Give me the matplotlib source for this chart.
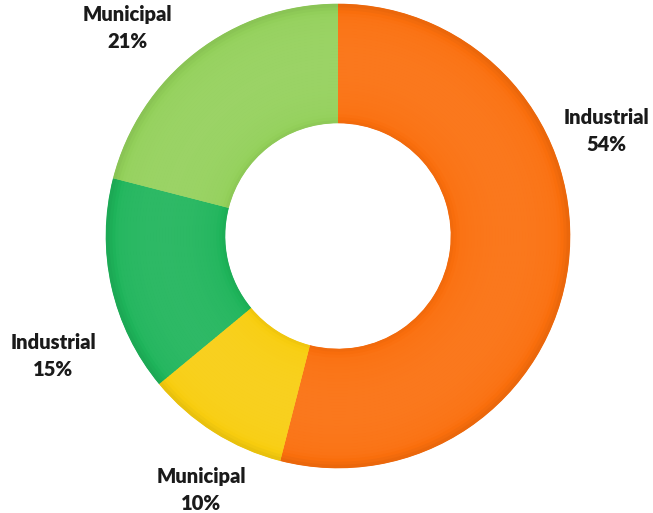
import matplotlib
matplotlib.use("Agg")
import numpy as np
import matplotlib.pyplot as plt
from matplotlib.patches import Wedge
from matplotlib.colors import to_rgb

# Share of water use by sector
labels = ["Industrial", "Municipal", "Industrial", "Municipal"]
shares = [54, 10, 15, 21]
colors = ["#FA6E0C", "#F8CD0E", "#1EB45A", "#93D05A"]

# Label anchor positions in pixel coordinates (x, y from top)
label_pos = [(606, 131), (201, 490), (53, 356), (127, 28)]

W, H = 653, 513
fig = plt.figure(figsize=(W / 100, H / 100), dpi=100)
ax = fig.add_axes([0, 0, 1, 1])

cx, cy = 338, H - 236
r_out, r_in = 232, 113
width = r_out - r_in

wedges, _ = ax.pie(shares, colors=colors, startangle=90, counterclock=False,
                   center=(cx, cy), radius=r_out, frame=True,
                   wedgeprops=dict(width=width, linewidth=0))
ax.set_xlim(0, W)
ax.set_ylim(0, H)
ax.set_aspect("equal")
ax.axis("off")


def shade(base, k):
    """Lighten (k > 0) or darken (k < 0) a colour."""
    c = np.array(to_rgb(base))
    return tuple(c + (1 - c) * k) if k > 0 else tuple(c * (1 + k))


# Soft bevel: thin concentric bands, darker toward the rims, lighter mid-ring
n = 40
edges = np.linspace(r_in, r_out, n + 1)
for w, base in zip(wedges, colors):
    t1, t2 = w.theta1, w.theta2
    for i in range(n):
        r0, r1 = edges[i], edges[i + 1]
        u = (0.5 * (r0 + r1) - r_in) / width   # 0 at inner rim, 1 at outer
        k = 0.07 * np.sin(np.pi * u) ** 0.6 - 0.08 * max(0, (u - 0.9) / 0.1) \
            - 0.05 * max(0, (0.08 - u) / 0.08)
        ax.add_patch(Wedge((cx, cy), r1 + 0.3, t1, t2, width=r1 - r0 + 0.6,
                           facecolor=shade(base, k), linewidth=0))

for lab, val, (px, py) in zip(labels, shares, label_pos):
    ax.text(px, H - py, f"{lab}\n{val}%", ha="center", va="center",
            fontsize=14.5, fontweight="heavy", family="Lato",
            color="#1A1A1A", linespacing=1.45)

fig.savefig("out.png", dpi=100)
